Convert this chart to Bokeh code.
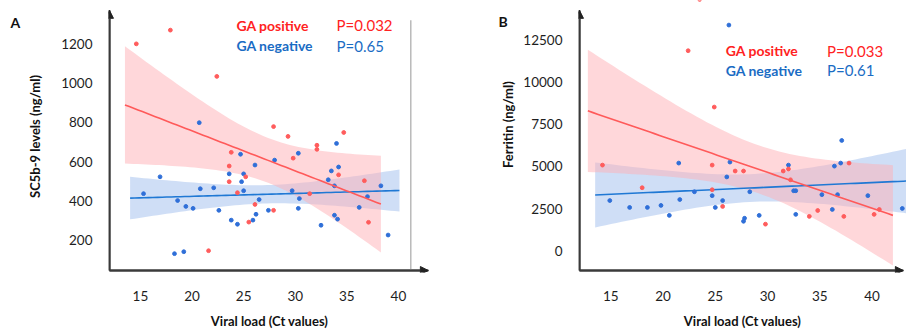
import numpy as np
from bokeh.plotting import figure
from bokeh.layouts import row
from bokeh.models import Arrow, NormalHead, Label, FixedTicker, Range1d
from bokeh.core.properties import value
from bokeh.embed import file_html
from bokeh.resources import INLINE

# ---------------- data ----------------
# Panel A: SC5b-9 levels vs viral load
a_pos_x = [14.6, 17.9, 22.4, 27.9, 29.3, 32.1, 32.1, 34.7, 23.8, 29.8, 23.6, 23.6, 25.2, 24.4,
           26.1, 25.5, 27.9, 31.4, 34.2, 36.7, 37.1, 21.6]
a_pos_y = [1200, 1270, 1034, 778, 728, 683, 662, 748, 647, 617, 577, 497, 522, 441,
           381, 291, 351, 436, 532, 502, 290, 145]
a_neg_x = [20.7, 34.0, 24.7, 30.3, 28.0, 26.1, 34.2, 16.9, 15.3, 18.6, 19.4, 20.1, 20.8, 22.1,
           22.6, 18.3, 19.2, 23.6, 25.0, 24.8, 25.0, 26.5, 26.2, 25.9, 23.8, 24.4, 27.4, 30.4,
           30.3, 29.7, 33.5, 33.2, 33.8, 38.3, 37.0, 36.2, 33.8, 34.1, 32.5, 39.0]
a_neg_y = [798, 692, 637, 642, 607, 582, 572, 522, 436, 401, 371, 361, 461, 466,
           351, 130, 140, 537, 537, 497, 451, 406, 331, 301, 301, 280, 351, 411,
           361, 451, 552, 507, 476, 476, 421, 366, 326, 306, 275, 225]
a_pos_fit_x = [13.5, 38.3]
a_neg_fit_x = [14.0, 40.1]
a_yticks = [200, 400, 600, 800, 1000, 1200]

# Panel B: Ferritin vs viral load
b_pos_x = [14.2, 18.0, 22.4, 23.5, 24.9, 24.7, 37.8, 26.9, 27.7, 24.7, 25.7, 29.8, 31.5, 32.0,
           32.2, 34.8, 34.0, 37.3, 40.2, 40.7]
b_pos_y = [5080, 3740, 11860, 14900, 8520, 5080, 5200, 4730, 4730, 3620, 2630, 1580, 4730, 4850,
           4210, 2390, 2040, 2040, 2160, 2450]
b_neg_x = [21.5, 26.3, 37.1, 26.4, 32.0, 36.4, 37.0, 14.9, 16.8, 18.5, 19.8, 20.6, 21.6, 23.0,
           26.1, 24.7, 25.7, 25.0, 28.3, 27.8, 27.7, 29.2, 32.7, 32.5, 32.7, 35.2, 36.7, 36.2,
           39.6, 42.9]
b_neg_y = [5200, 13380, 6540, 5260, 5080, 5020, 5200, 2980, 2570, 2570, 2690, 2100, 3040, 3500,
           4380, 3270, 2980, 2570, 3500, 1930, 1750, 2100, 3560, 3560, 2160, 3330, 3330, 2450,
           3270, 2510]
b_pos_fit_x = [12.8, 42.0]
b_neg_fit_x = [13.5, 43.5]
b_yticks = [0, 2500, 5000, 7500, 10000, 12500]

x_ticks = [15, 20, 25, 30, 35, 40]

RED_PT = "#ff5c5c"
BLUE_PT = "#2f6fd8"
RED_LINE = "#ff5a5a"
BLUE_LINE = "#1f78d4"
RED_BAND = "#ffb0b6"
BLUE_BAND = "#9fbdee"
RED_TXT = "#ff2222"
BLUE_TXT = "#1a6cc4"
AXIS_C = "#3a3a3a"
FONT = "Lato"
H = 331


def fit_band(x, y, xr, n_pts=60):
    x = np.asarray(x, float)
    y = np.asarray(y, float)
    n = len(x)
    b, a = np.polyfit(x, y, 1)
    xs = np.linspace(xr[0], xr[1], n_pts)
    yh = a + b * xs
    resid = y - (a + b * x)
    s = np.sqrt(np.sum(resid ** 2) / (n - 2))
    xm = x.mean()
    sxx = np.sum((x - xm) ** 2)
    t = 2.05
    se = s * np.sqrt(1.0 / n + (xs - xm) ** 2 / sxx)
    return xs, yh, yh - t * se, yh + t * se


def strip(width, texts):
    """Narrow blank figure that carries texts lying outside a panel's frame (pixel coords)."""
    s = figure(width=width, height=H, x_range=Range1d(0, width), y_range=Range1d(H, 0),
               output_backend="svg", toolbar_location=None,
               x_axis_type=None, y_axis_type=None,
               min_border_left=0, min_border_right=0, min_border_top=0, min_border_bottom=0)
    s.outline_line_color = None
    s.grid.grid_line_color = None
    for (tx, ty, t, size, ang, align) in texts:
        s.text(x=[tx], y=[ty], text=[t], angle=ang, text_font=value(FONT),
               text_font_size=size, text_font_style="bold", text_color="#111111",
               text_align=align, text_baseline="middle")
    return s


def panel(width, border_left, border_right, xr, yr, x0, y0, x_arrow_end, y_arrow_end,
          yticks, ylabel, ylab_standoff, pos, neg, pos_fx, neg_fx, ptxt, ntxt,
          leg_x, leg_px, leg_y1, leg_y2, grey_line=None):
    p = figure(width=width, height=H, x_range=xr, y_range=yr,
               output_backend="svg", toolbar_location=None,
               min_border_left=border_left, min_border_right=border_right,
               min_border_top=0, min_border_bottom=55)
    p.outline_line_color = None
    p.grid.grid_line_color = None
    p.background_fill_color = "white"

    series = ((neg, neg_fx, BLUE_BAND, BLUE_LINE, BLUE_PT),
              (pos, pos_fx, RED_BAND, RED_LINE, RED_PT))
    for (xx, yy), fx, band_c, line_c, pt_c in series:
        xs, yh, lo, hi = fit_band(xx, yy, fx)
        p.varea(x=xs, y1=lo, y2=hi, fill_color=band_c, fill_alpha=0.5)
    for (xx, yy), fx, band_c, line_c, pt_c in series:
        xs, yh, lo, hi = fit_band(xx, yy, fx)
        p.line(xs, yh, line_color=line_c, line_width=1.6)
        p.scatter(xx, yy, size=3.8, fill_color=pt_c, line_color=pt_c)

    for ax in (p.xaxis[0], p.yaxis[0]):
        ax.axis_line_color = None
        ax.major_tick_line_color = None
        ax.minor_tick_line_color = None
        ax.major_label_text_font = FONT
        ax.major_label_text_font_size = "13.5px"
        ax.major_label_text_color = "#1e1e1e"
        ax.axis_label_text_font = FONT
        ax.axis_label_text_font_style = "bold"
        ax.axis_label_text_font_size = "13px"
        ax.axis_label_text_color = "#111111"
    p.xaxis.ticker = FixedTicker(ticks=x_ticks)
    p.yaxis.ticker = FixedTicker(ticks=yticks)
    p.xaxis.major_label_standoff = 12
    p.yaxis.major_label_standoff = 10
    p.xaxis.axis_label = "Viral load (Ct values)"
    p.xaxis.axis_label_standoff = 9
    if ylabel:
        p.yaxis.axis_label = ylabel
        p.yaxis.axis_label_standoff = ylab_standoff

    # axis lines (inside the frame) with arrow heads at their ends
    p.segment(x0=[x0, x0], y0=[y0, y0], x1=[x0, x_arrow_end], y1=[y_arrow_end, y0],
              line_color=AXIS_C, line_width=2)
    head = dict(size=8, fill_color="#222222", line_color="#222222")
    p.add_layout(Arrow(x_start=x0, y_start=y0, x_end=x0, y_end=y_arrow_end,
                       line_color=AXIS_C, line_width=2, end=NormalHead(**head)))
    p.add_layout(Arrow(x_start=x0, y_start=y0, x_end=x_arrow_end, y_end=y0,
                       line_color=AXIS_C, line_width=2, end=NormalHead(**head)))
    if grey_line is not None:
        gx, gy0, gy1 = grey_line
        p.segment(x0=[gx], y0=[gy0], x1=[gx], y1=[gy1], line_color="#a8a8a8", line_width=1.2)

    def lab(x, y, t, c, size="14px", bold=True):
        p.add_layout(Label(x=x, y=y, text=t, text_color=c, text_font=FONT,
                           text_font_size=size, text_font_style="bold" if bold else "normal",
                           text_baseline="middle", text_align="left"))

    lab(leg_x, leg_y1, "GA positive", RED_TXT)
    lab(leg_px, leg_y1, ptxt, RED_TXT, size="15px", bold=False)
    lab(leg_x, leg_y2, "GA negative", BLUE_TXT)
    lab(leg_px, leg_y2, ntxt, BLUE_TXT, size="15px", bold=False)
    return p


sA = strip(24, [(10, 27, "A", "14px", 0, "left")])
pA = panel(464, 79, 58, (11.905, 43.107), (33.95, 1421.1), 12, 44, 42.9, 1371, a_yticks,
           "SC5b-9 levels (ng/ml)", 15,
           (a_pos_x, a_pos_y), (a_neg_x, a_neg_y), a_pos_fit_x, a_neg_fit_x,
           "P=0.032", "P=0.65", 24.3, 34.0, 1295, 1190,
           grey_line=(41.2, 44, 1320))
sB = strip(32, [(10, 26, "B", "14px", 0, "left"),
                (19, 151, "Ferritin (ng/ml)", "13px", np.pi / 2, "center")])
pB = panel(386, 57, 0, (11.905, 43.3), (-1285, 14836), 12, -1168, 43.0, 14252, b_yticks,
           None, 0,
           (b_pos_x, b_pos_y), (b_neg_x, b_neg_y), b_pos_fit_x, b_neg_fit_x,
           "P=0.033", "P=0.61", 26.0, 35.7, 11857, 10689)

layout = row(sA, pA, sB, pB)
open("out.html", "w").write(file_html(layout, INLINE))
